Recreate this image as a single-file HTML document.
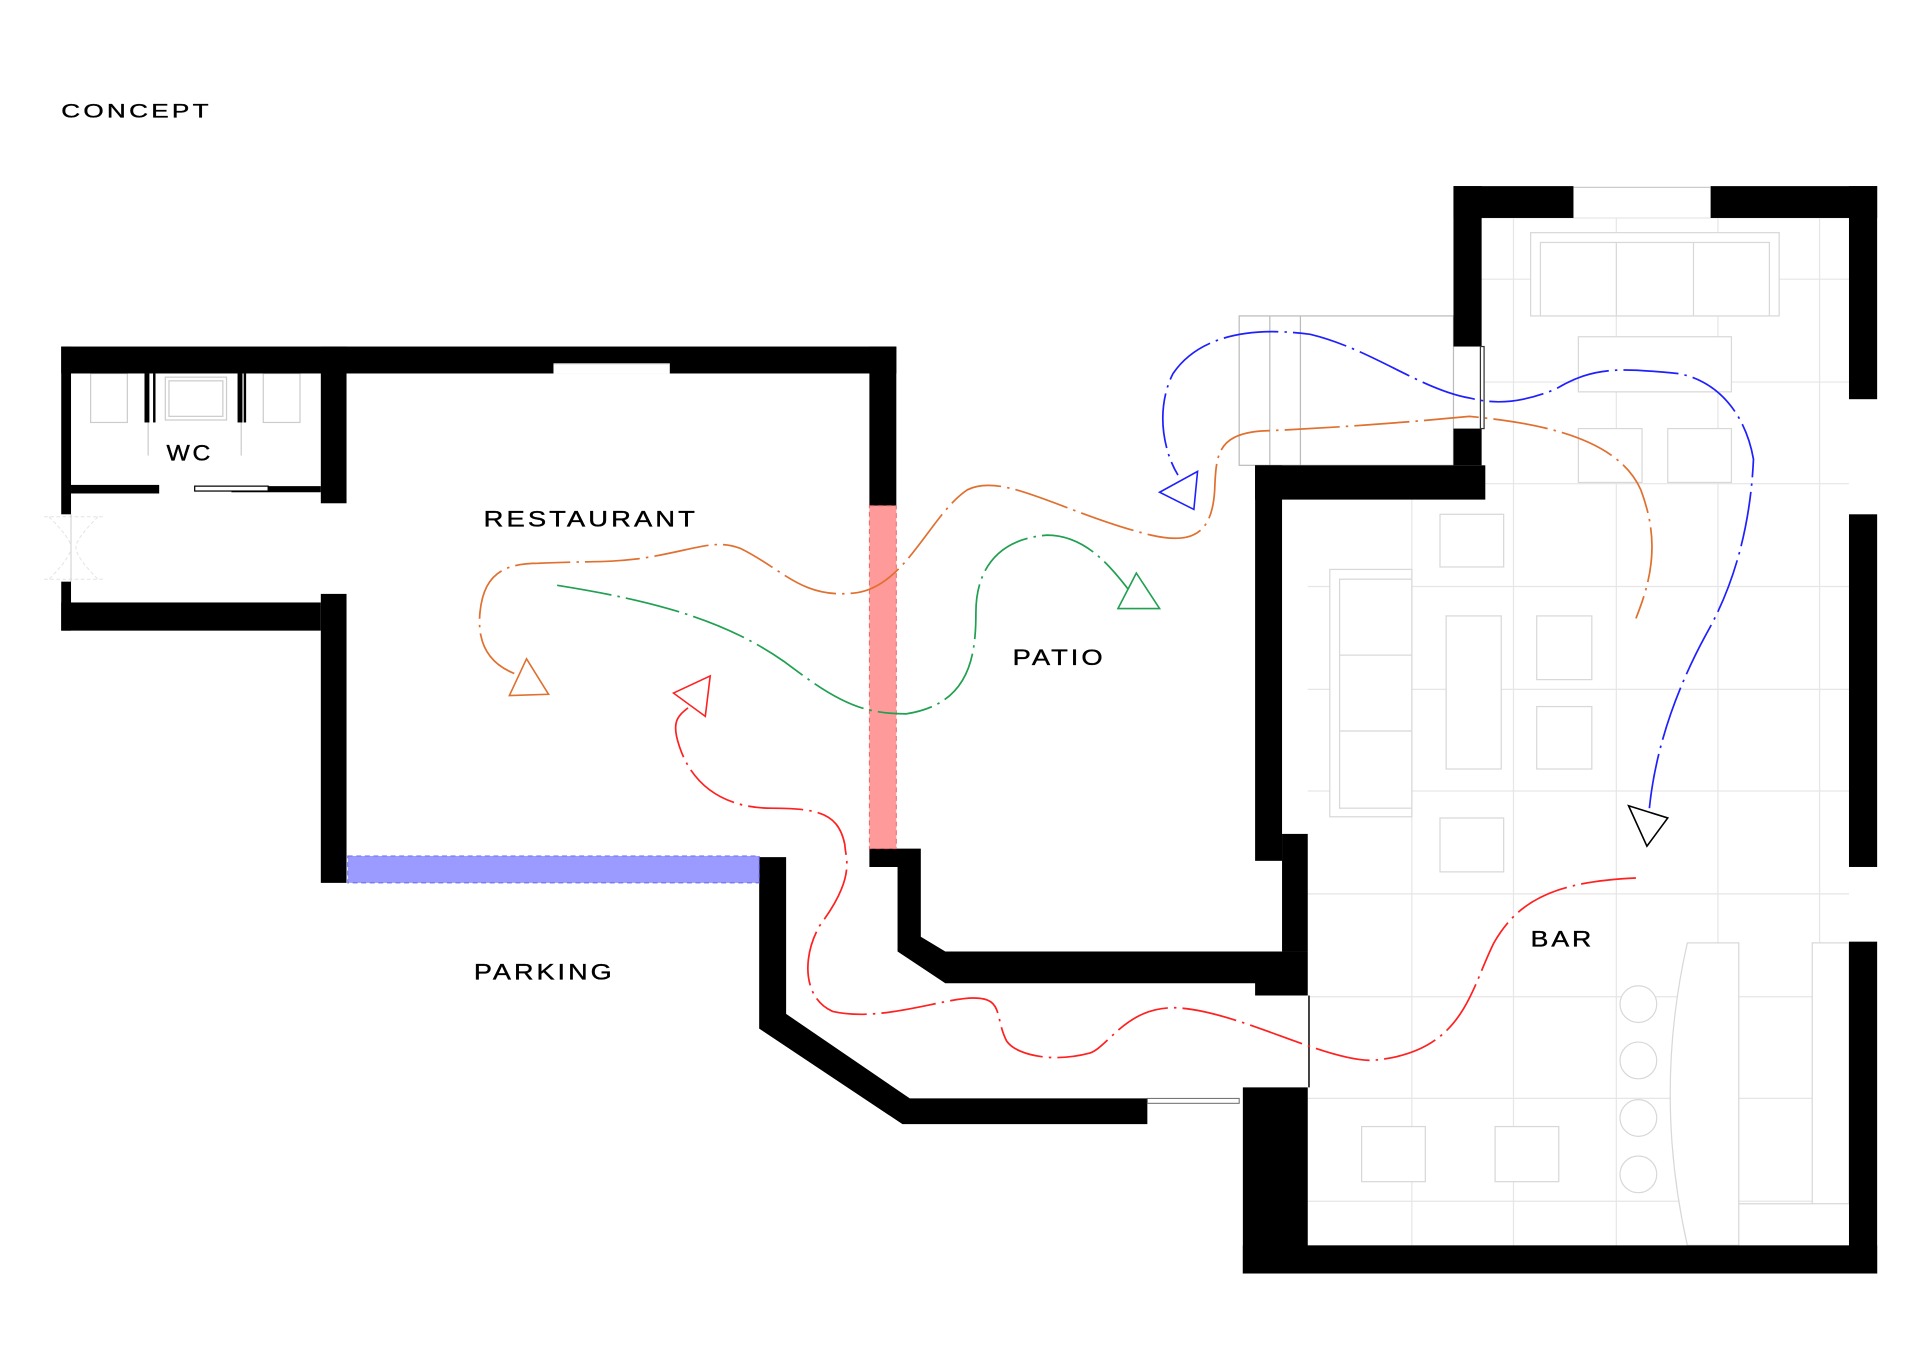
<!DOCTYPE html>
<html><head><meta charset="utf-8"><style>
html,body{margin:0;padding:0;background:#fff;}
svg{display:block;}
text{font-family:"Liberation Sans",sans-serif;font-size:18px;fill:#000;stroke:#000;stroke-width:0.3;letter-spacing:2px;}
</style></head><body>
<svg width="1920" height="1358" viewBox="0 0 1568 1109" preserveAspectRatio="none" xmlns="http://www.w3.org/2000/svg">
<rect width="1568" height="1109" fill="#fff"/>
<text x="50" y="96" style="font-size:16px" textLength="123" lengthAdjust="spacingAndGlyphs">CONCEPT</text>

<!-- bar floor grid -->
<g stroke="#e6e6e6" stroke-width="1" fill="none">
<line x1="1153" y1="408" x2="1153" y2="1017"/>
<line x1="1236" y1="178" x2="1236" y2="1017"/>
<line x1="1320" y1="178" x2="1320" y2="1017"/>
<line x1="1403" y1="178" x2="1403" y2="1017"/>
<line x1="1486" y1="178" x2="1486" y2="770"/>
<line x1="1210" y1="228" x2="1510" y2="228"/>
<line x1="1210" y1="312" x2="1510" y2="312"/>
<line x1="1210" y1="395" x2="1510" y2="395"/>
<line x1="1068" y1="479" x2="1510" y2="479"/>
<line x1="1068" y1="563" x2="1510" y2="563"/>
<line x1="1068" y1="646" x2="1510" y2="646"/>
<line x1="1068" y1="730" x2="1510" y2="730"/>
<line x1="1068" y1="814" x2="1510" y2="814"/>
<line x1="1068" y1="897" x2="1510" y2="897"/>
<line x1="1068" y1="981" x2="1510" y2="981"/>
<line x1="1210" y1="178" x2="1510" y2="178"/>
</g>
<!-- furniture -->
<g stroke="#d8d8d8" stroke-width="1" fill="#fff">
<rect x="1250" y="190" width="203" height="68"/>
<rect x="1258" y="198" width="187" height="60"/>
<line x1="1320" y1="198" x2="1320" y2="258"/><line x1="1383" y1="198" x2="1383" y2="258"/>
<rect x="1289" y="275" width="125" height="45"/>
<rect x="1289" y="350" width="52" height="44"/>
<rect x="1362" y="350" width="52" height="44"/>
<rect x="1176" y="420" width="52" height="43"/>
<rect x="1086" y="465" width="67" height="202"/>
<rect x="1094" y="473" width="59" height="187"/>
<line x1="1094" y1="535" x2="1153" y2="535"/><line x1="1094" y1="597" x2="1153" y2="597"/>
<rect x="1181" y="503" width="45" height="125"/>
<rect x="1255" y="503" width="45" height="52"/>
<rect x="1255" y="577" width="45" height="51"/>
<rect x="1176" y="668" width="52" height="44"/>
<rect x="1112" y="920" width="52" height="45"/>
<rect x="1221" y="920" width="52" height="45"/>
<path d="M1378 770 L1420 770 L1420 1017 L1378 1017 Q1350 893 1378 770 Z"/>
<rect x="1480" y="770" width="30" height="213"/>
<line x1="1420" y1="983" x2="1480" y2="983"/>
<circle cx="1338" cy="820" r="15"/><circle cx="1338" cy="866" r="15"/>
<circle cx="1338" cy="913" r="15"/><circle cx="1338" cy="959" r="15"/>
</g>
<!-- terrace steps -->
<g stroke="#bbb" stroke-width="1" fill="none">
<rect x="1012" y="258" width="175" height="122"/>
<line x1="1037" y1="258" x2="1037" y2="380"/><line x1="1062" y1="258" x2="1062" y2="380"/>
</g>
<!-- WC fixtures -->
<g stroke="#ccc" stroke-width="1" fill="none">
<rect x="74" y="305" width="30" height="40"/><rect x="215" y="305" width="30" height="40"/>
<rect x="135" y="308" width="50" height="35"/><rect x="138" y="311" width="44" height="29"/>
<line x1="121" y1="340" x2="121" y2="372"/><line x1="197" y1="340" x2="197" y2="372"/>
</g>
<g stroke="#e4e4e4" stroke-width="0.8" fill="none" stroke-dasharray="3 2">
<line x1="36" y1="422" x2="84" y2="422"/><line x1="36" y1="473" x2="84" y2="473"/>
<path d="M40 422 Q58 440 58 447 Q58 455 40 473"/><path d="M80 422 Q62 440 62 447 Q62 455 80 473"/>
</g>
<line x1="58" y1="420" x2="58" y2="475" stroke="#ccc" stroke-width="0.8"/>
<g fill="#000">
<rect x="118" y="305" width="4" height="40"/><rect x="194" y="305" width="4" height="40"/>
<rect x="125" y="305" width="2" height="40"/><rect x="199" y="305" width="2" height="40"/>
</g>

<!-- walls -->
<g fill="#000">
<rect x="50" y="283" width="682" height="22"/>
<rect x="452" y="297" width="95" height="8" fill="#fff"/>
<line x1="452" y1="297" x2="547" y2="297" stroke="#bbb"/>
<rect x="50" y="283" width="8" height="137"/>
<rect x="50" y="475" width="8" height="40"/>
<rect x="58" y="396" width="72" height="7"/>
<rect x="189" y="397" width="73" height="5"/>
<rect x="159" y="397" width="60" height="4" fill="#fff" stroke="#000" stroke-width="1"/>
<rect x="262" y="283" width="21" height="128"/>
<rect x="50" y="492" width="212" height="23"/>
<rect x="262" y="485" width="21" height="236"/>
<rect x="710" y="283" width="22" height="130"/>
<polygon points="620,700 642,700 642,828 743,897 937,897 937,918 737,918 620,840"/>
<polygon points="710,693 752,693 752,765 772,777 1068,777 1068,813 1025,813 1025,803 772,803 733,777 733,708 710,708"/>
<rect x="1025" y="380" width="188" height="28"/>
<rect x="1025" y="380" width="22" height="323"/>
<rect x="1047" y="681" width="21" height="96"/>
<rect x="1187" y="152" width="23" height="131"/>
<rect x="1187" y="350" width="23" height="30"/>
<rect x="1187" y="152" width="98" height="26"/>
<rect x="1397" y="152" width="136" height="26"/>
<rect x="1510" y="152" width="23" height="174"/>
<rect x="1510" y="420" width="23" height="288"/>
<rect x="1510" y="769" width="23" height="271"/>
<rect x="1015" y="888" width="53" height="152"/>
<rect x="1015" y="1017" width="518" height="23"/>
</g>
<line x1="1285" y1="153" x2="1397" y2="153" stroke="#ccc"/>
<rect x="1209" y="283" width="3" height="67" fill="#fff" stroke="#333" stroke-width="1"/>
<line x1="1069" y1="813" x2="1069" y2="888" stroke="#333" stroke-width="1.5"/>
<rect x="937" y="897" width="75" height="4" fill="#fff" stroke="#666" stroke-width="0.8"/>

<!-- pink and blue strips -->
<rect x="710" y="413" width="22" height="280" fill="#ff9a9a" stroke="#ee6666" stroke-dasharray="4 3" stroke-width="0.8"/>
<rect x="284" y="699" width="336" height="22" fill="#9a9aff" stroke="#6666ee" stroke-dasharray="4 3" stroke-width="0.8"/>

<!-- flow curves -->
<g fill="none" stroke-width="1.4" stroke-dasharray="45 5 2 5">
<path stroke="#e07030" d="M420 550 C395 540 390 520 392 500 C395 470 410 460 440 460 C480 458 500 460 530 455 C570 448 585 440 605 448 C640 465 655 490 700 484 C740 478 760 420 790 400 C820 385 870 420 940 437 C975 445 990 435 992 400 C993 370 995 355 1030 352 C1080 350 1150 345 1200 340 C1250 345 1320 355 1340 400 C1355 440 1350 470 1336 505"/>
<path stroke="#20a050" d="M455 478 C530 490 590 505 640 540 C680 570 700 583 740 583 C790 575 797 540 797 500 C797 465 815 440 855 437 C885 437 905 460 922 482"/>
<path stroke="#ff2020" d="M1336 717 C1270 720 1240 735 1220 770 C1200 810 1195 860 1120 866 C1080 866 1010 825 960 823 C920 822 905 855 890 860 C860 868 830 862 822 850 C812 830 820 815 795 815 C770 815 720 835 680 826 C655 815 655 780 670 755 C700 715 690 700 690 690 C685 665 670 660 630 660 C590 660 565 640 555 610 C548 590 553 585 562 578"/>
<path stroke="#2020ff" d="M1347 660 C1352 610 1370 560 1395 515 C1420 470 1430 420 1432 375 C1425 335 1400 310 1370 305 C1320 300 1300 300 1270 318 C1240 330 1220 330 1200 325 C1160 318 1120 285 1070 273 C1010 265 975 280 958 305 C945 330 948 365 962 388"/>
</g>
<!-- arrowheads -->
<g fill="#fff" stroke-width="1.3">
<polygon stroke="#e07030" points="416,568 448,567 430,538"/>
<polygon stroke="#20a050" points="913,497 947,497 928,468"/>
<polygon stroke="#ff2020" points="550,566 580,552 576,585"/>
<polygon stroke="#2020ff" points="947,402 978,385 975,416"/>
<polygon stroke="#000" points="1330,658 1362,668 1345,691"/>
</g>

<!-- labels -->
<text x="136" y="376" textLength="38" lengthAdjust="spacingAndGlyphs">WC</text>
<text x="395" y="430" textLength="175" lengthAdjust="spacingAndGlyphs">RESTAURANT</text>
<text x="827" y="543" textLength="76" lengthAdjust="spacingAndGlyphs">PATIO</text>
<text x="387" y="800" textLength="115" lengthAdjust="spacingAndGlyphs">PARKING</text>
<text x="1250" y="773" textLength="52" lengthAdjust="spacingAndGlyphs">BAR</text>
</svg>
</body></html>
